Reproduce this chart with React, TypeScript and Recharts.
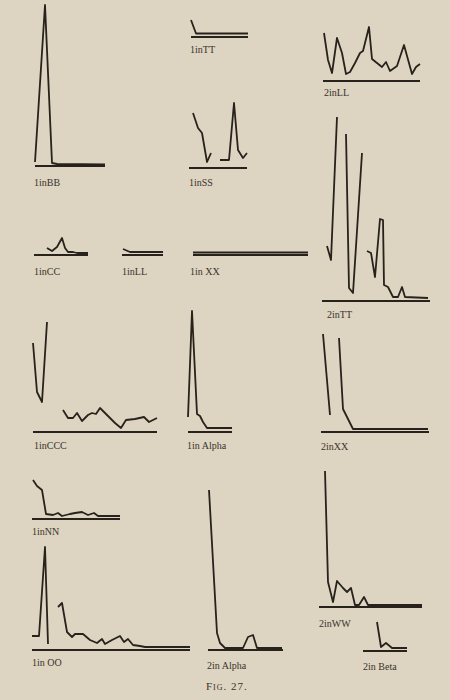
import React from 'react';
import { LineChart, Line, XAxis, YAxis, ReferenceLine } from 'recharts';

type P = { x: number; y: number };

// Curve readings: x = distance along the base line, y = height above it
const bbTrace: P[] = [{ x: 0, y: 4 }, { x: 10, y: 161 }, { x: 17, y: 3 }, { x: 22, y: 2 }, { x: 70, y: 1.5 }];
const ttTrace: P[] = [{ x: 0, y: 17 }, { x: 5, y: 3.5 }, { x: 57, y: 3.5 }];
const ssTraceA: P[] = [{ x: 4, y: 55 }, { x: 9, y: 40 }, { x: 13, y: 35 }, { x: 18, y: 6 }, { x: 22, y: 15 }];
const ssTraceB: P[] = [{ x: 31, y: 8 }, { x: 40, y: 8 }, { x: 45, y: 65 }, { x: 49, y: 18 }, { x: 54, y: 10 }, { x: 58, y: 15 }];
const ll2Trace: P[] = [
  { x: 1, y: 48 }, { x: 5, y: 21 }, { x: 9, y: 8 }, { x: 14, y: 43 }, { x: 19, y: 28 }, { x: 23, y: 7 },
  { x: 27, y: 9 }, { x: 32, y: 18 }, { x: 37, y: 28 }, { x: 40, y: 30 }, { x: 46, y: 54 }, { x: 49, y: 22 },
  { x: 54, y: 18 }, { x: 59, y: 14 }, { x: 63, y: 19 }, { x: 67, y: 10 }, { x: 74, y: 15 }, { x: 81, y: 36 },
  { x: 89, y: 7 }, { x: 93, y: 14 }, { x: 97, y: 17 },
];
const ccTrace: P[] = [
  { x: 13, y: 7 }, { x: 18, y: 4 }, { x: 23, y: 8 }, { x: 28, y: 17 }, { x: 31, y: 7 }, { x: 34, y: 3 },
  { x: 39, y: 3 }, { x: 43, y: 2 }, { x: 54, y: 2 },
];
const ll1Trace: P[] = [{ x: 1, y: 6 }, { x: 8, y: 3 }, { x: 41, y: 3 }];
const xx1Trace: P[] = [{ x: 0, y: 2.5 }, { x: 115, y: 2.5 }];
const tt2TraceA: P[] = [{ x: 5, y: 55 }, { x: 9, y: 41 }, { x: 15, y: 184 }];
const tt2TraceB: P[] = [{ x: 24, y: 167 }, { x: 27, y: 13 }, { x: 31, y: 8 }, { x: 40, y: 148 }];
const tt2TraceC: P[] = [
  { x: 45, y: 50 }, { x: 49, y: 48 }, { x: 53, y: 24 }, { x: 58, y: 82 }, { x: 61, y: 81 }, { x: 62, y: 16 },
  { x: 66, y: 14 }, { x: 71, y: 4 }, { x: 76, y: 4 }, { x: 80, y: 14 }, { x: 83, y: 4 }, { x: 106, y: 3 },
];
const cccTraceA: P[] = [{ x: 0, y: 89 }, { x: 4, y: 40 }, { x: 9, y: 30 }, { x: 14, y: 110 }];
const cccTraceB: P[] = [
  { x: 30, y: 22 }, { x: 35, y: 14 }, { x: 40, y: 14 }, { x: 44, y: 19 }, { x: 49, y: 11 }, { x: 55, y: 17 },
  { x: 59, y: 19 }, { x: 63, y: 18 }, { x: 67, y: 24 }, { x: 72, y: 19 }, { x: 77, y: 14 }, { x: 82, y: 9 },
  { x: 88, y: 4 }, { x: 93, y: 12 }, { x: 102, y: 13 }, { x: 111, y: 15 }, { x: 116, y: 10 }, { x: 124, y: 14 },
];
const alpha1Trace: P[] = [
  { x: 0, y: 15 }, { x: 4, y: 121 }, { x: 9, y: 18 }, { x: 12, y: 16 }, { x: 15, y: 10 }, { x: 19, y: 4 }, { x: 44, y: 4 },
];
const xx2TraceA: P[] = [{ x: 2, y: 98 }, { x: 9, y: 17 }];
const xx2TraceB: P[] = [{ x: 18, y: 94 }, { x: 22, y: 23 }, { x: 26, y: 15 }, { x: 32, y: 3 }, { x: 107, y: 3 }];
const nnTrace: P[] = [
  { x: 1, y: 39 }, { x: 5, y: 33 }, { x: 10, y: 29 }, { x: 14, y: 5 }, { x: 21, y: 4 }, { x: 26, y: 6 },
  { x: 30, y: 3 }, { x: 38, y: 5 }, { x: 43, y: 6 }, { x: 50, y: 7 }, { x: 56, y: 4 }, { x: 62, y: 6 },
  { x: 66, y: 3 }, { x: 88, y: 3 },
];
const ooTraceA: P[] = [{ x: 0, y: 14 }, { x: 7, y: 14 }, { x: 13, y: 103 }, { x: 16, y: 6 }];
const ooTraceB: P[] = [
  { x: 26, y: 43 }, { x: 30, y: 47 }, { x: 35, y: 18 }, { x: 40, y: 13 }, { x: 43, y: 16 }, { x: 51, y: 16 },
  { x: 58, y: 10 }, { x: 65, y: 7 }, { x: 70, y: 11 }, { x: 73, y: 6 }, { x: 80, y: 10 }, { x: 88, y: 14 },
  { x: 92, y: 8 }, { x: 96, y: 11 }, { x: 101, y: 5 }, { x: 108, y: 4 }, { x: 113, y: 3 }, { x: 158, y: 3 },
];
const alpha2Trace: P[] = [
  { x: 1, y: 160 }, { x: 9, y: 17 }, { x: 12, y: 7 }, { x: 17, y: 2 }, { x: 35, y: 2 }, { x: 40, y: 13 },
  { x: 45, y: 15 }, { x: 49, y: 2 }, { x: 74, y: 2 },
];
const wwTrace: P[] = [
  { x: 6, y: 136 }, { x: 9, y: 25 }, { x: 14, y: 5 }, { x: 18, y: 26 }, { x: 24, y: 19 }, { x: 28, y: 15 },
  { x: 32, y: 19 }, { x: 36, y: 2 }, { x: 40, y: 2 }, { x: 45, y: 10 }, { x: 49, y: 2 }, { x: 103, y: 2 },
];
const betaTrace: P[] = [{ x: 14, y: 29 }, { x: 18, y: 4 }, { x: 23, y: 8 }, { x: 29, y: 3 }, { x: 44, y: 3 }];

const panelLabels = [
  '1inBB', '1inTT', '1inSS', '2inLL', '1inCC', '1inLL', '1in XX', '2inTT',
  '1inCCC', '1in Alpha', '2inXX', '1inNN', '1in OO', '2in Alpha', '2inWW', '2in Beta',
];
const caption = 'Fig. 27.';

// Layout (pixel placement of each small chart)
type Panel = { label: string; series: P[][]; left: number; base: number; w: number; h: number; lx: number; ly: number };
const panels: Panel[] = [
  { label: panelLabels[0], series: [bbTrace], left: 35, base: 166, w: 70, h: 162, lx: 34, ly: 183 },
  { label: panelLabels[1], series: [ttTrace], left: 191, base: 37, w: 57, h: 20, lx: 190, ly: 50 },
  { label: panelLabels[2], series: [ssTraceA, ssTraceB], left: 189, base: 168, w: 58, h: 68, lx: 189, ly: 183 },
  { label: panelLabels[3], series: [ll2Trace], left: 323, base: 81, w: 97, h: 56, lx: 324, ly: 93 },
  { label: panelLabels[4], series: [ccTrace], left: 34, base: 255, w: 54, h: 20, lx: 34, ly: 272 },
  { label: panelLabels[5], series: [ll1Trace], left: 122, base: 255, w: 41, h: 8, lx: 122, ly: 272 },
  { label: panelLabels[6], series: [xx1Trace], left: 193, base: 255, w: 115, h: 6, lx: 190, ly: 272 },
  { label: panelLabels[7], series: [tt2TraceA, tt2TraceB, tt2TraceC], left: 322, base: 301, w: 108, h: 186, lx: 327, ly: 315 },
  { label: panelLabels[8], series: [cccTraceA, cccTraceB], left: 33, base: 432, w: 124, h: 112, lx: 34, ly: 446 },
  { label: panelLabels[9], series: [alpha1Trace], left: 188, base: 432, w: 44, h: 124, lx: 187, ly: 446 },
  { label: panelLabels[10], series: [xx2TraceA, xx2TraceB], left: 321, base: 432, w: 108, h: 100, lx: 321, ly: 447 },
  { label: panelLabels[11], series: [nnTrace], left: 32, base: 519, w: 88, h: 42, lx: 32, ly: 532 },
  { label: panelLabels[12], series: [ooTraceA, ooTraceB], left: 32, base: 650, w: 158, h: 106, lx: 32, ly: 663 },
  { label: panelLabels[13], series: [alpha2Trace], left: 208, base: 650, w: 75, h: 162, lx: 207, ly: 666 },
  { label: panelLabels[14], series: [wwTrace], left: 319, base: 607, w: 103, h: 138, lx: 319, ly: 624 },
  { label: panelLabels[15], series: [betaTrace], left: 363, base: 651, w: 44, h: 32, lx: 363, ly: 667 },
];

const INK = '#27221c';
const PAPER = '#ddd4c1';
const PAD = 4;
const labelFont = '"Liberation Serif", "DejaVu Serif", serif';

function SmallChart({ p }: { p: Panel }) {
  return (
    <div style={{ position: 'absolute', left: p.left - PAD, top: p.base - p.h - PAD }}>
      <LineChart width={p.w + PAD * 2} height={p.h + PAD * 2} margin={{ top: PAD, right: PAD, bottom: PAD, left: PAD }}>
        <XAxis type="number" dataKey="x" domain={[0, p.w]} hide />
        <YAxis type="number" domain={[0, p.h]} hide />
        <ReferenceLine y={0} stroke={INK} strokeWidth={1.8} />
        {p.series.map((s, i) => (
          <Line
            key={i}
            data={s}
            dataKey="y"
            type="linear"
            stroke={INK}
            strokeWidth={1.8}
            strokeLinejoin="round"
            dot={false}
            activeDot={false}
            isAnimationActive={false}
          />
        ))}
      </LineChart>
    </div>
  );
}

export default function App() {
  return (
    <div style={{ position: 'absolute', left: 0, top: 0, width: 450, height: 700, background: PAPER, overflow: 'hidden' }}>
      {panels.map((p, i) => (
        <React.Fragment key={i}>
          <SmallChart p={p} />
          <div
            style={{
              position: 'absolute',
              left: p.lx,
              top: p.ly - 6,
              fontFamily: labelFont,
              fontSize: 10,
              lineHeight: '12px',
              color: '#3a332b',
              whiteSpace: 'nowrap',
            }}
          >
            {p.label}
          </div>
        </React.Fragment>
      ))}
      <div
        style={{
          position: 'absolute',
          left: 206,
          top: 680,
          fontFamily: labelFont,
          fontSize: 11,
          lineHeight: '13px',
          fontVariant: 'small-caps',
          letterSpacing: 1,
          color: '#3a332b',
          whiteSpace: 'nowrap',
        }}
      >
        {caption}
      </div>
    </div>
  );
}
